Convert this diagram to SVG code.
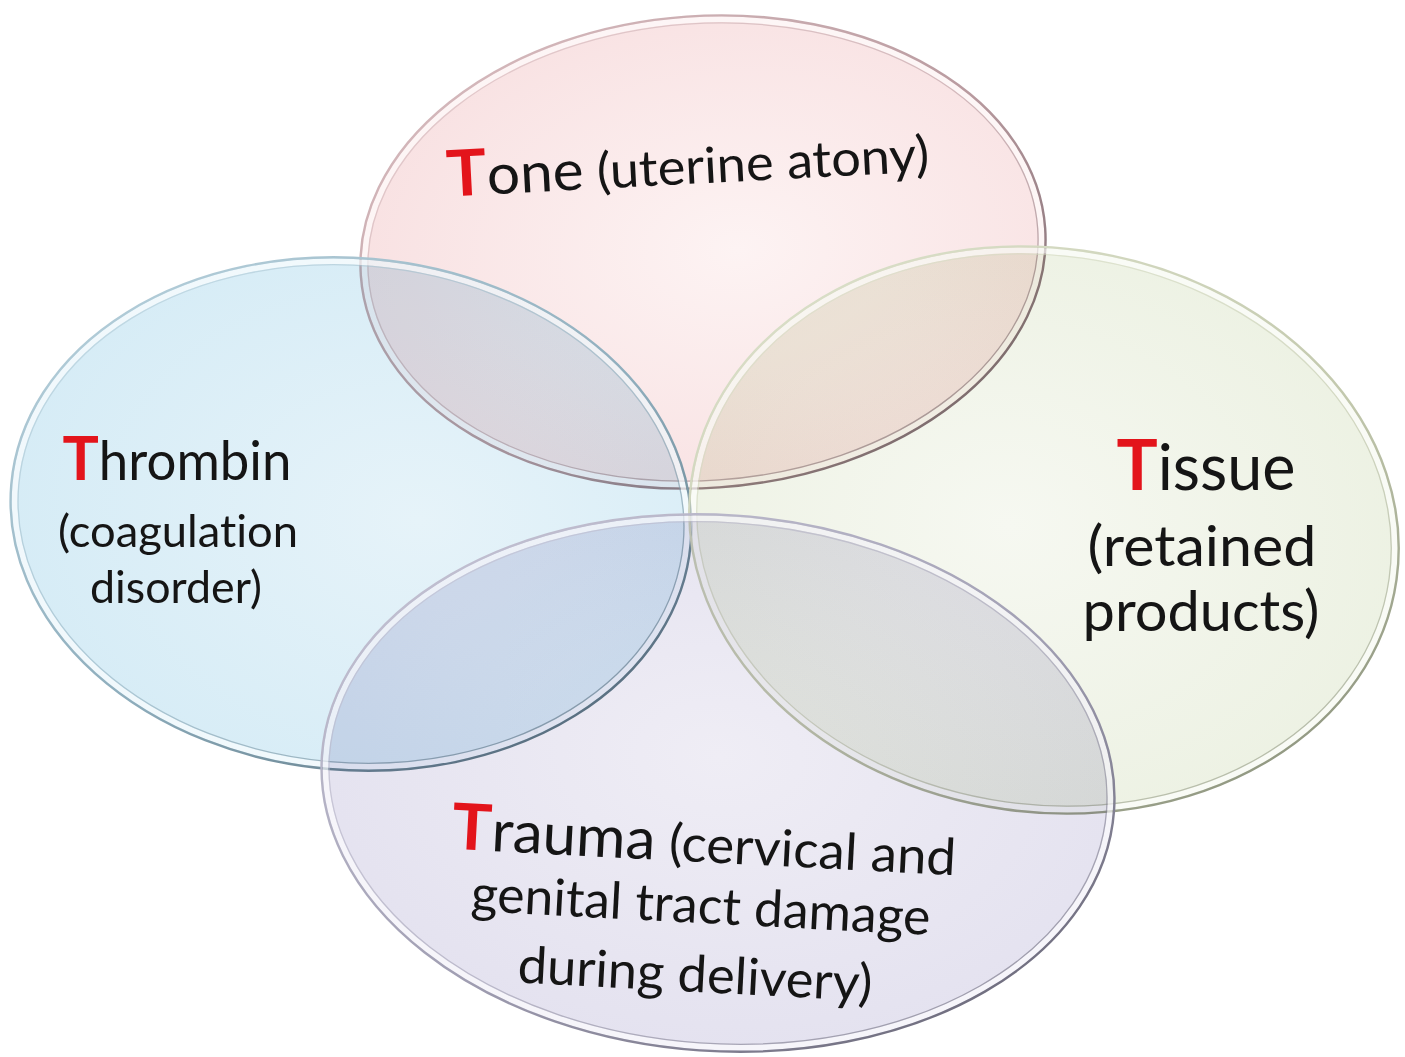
<svg xmlns="http://www.w3.org/2000/svg" width="1405" height="1057" viewBox="0 0 1405 1057">
<style>
.fill{mix-blend-mode:multiply}
.band{fill:none;stroke:#ffffff;stroke-opacity:0.65;stroke-width:5.5}
.edge{fill:none;stroke-width:2.4}
.inner{fill:none;stroke-width:1.3;stroke-opacity:0.6}
.lbl{font-family:Lato,"Liberation Sans",sans-serif;fill:#151515;font-variant-ligatures:none}
.red{fill:#e3141b;font-weight:700}
</style>
<defs>
<radialGradient id="gTone" cx="0.55" cy="0.5" r="0.6"><stop offset="0" stop-color="#fdf3f3"/><stop offset="1" stop-color="#f8e0e1"/></radialGradient>
<radialGradient id="gThr" cx="0.6" cy="0.5" r="0.6"><stop offset="0" stop-color="#e6f3f9"/><stop offset="1" stop-color="#d6ecf6"/></radialGradient>
<radialGradient id="gTis" cx="0.45" cy="0.5" r="0.6"><stop offset="0" stop-color="#f6f8f1"/><stop offset="1" stop-color="#ecf1e2"/></radialGradient>
<radialGradient id="gTra" cx="0.5" cy="0.45" r="0.6"><stop offset="0" stop-color="#efedf5"/><stop offset="1" stop-color="#e3e1ef"/></radialGradient>
<linearGradient id="sTone" x1="0" y1="0" x2="1" y2="1"><stop offset="0" stop-color="#dcc0c3"/><stop offset="0.55" stop-color="#b99ba0"/><stop offset="1" stop-color="#6d5e65"/></linearGradient>
<linearGradient id="sThr" x1="0" y1="0" x2="1" y2="1"><stop offset="0" stop-color="#bcd5e0"/><stop offset="0.55" stop-color="#8eadbc"/><stop offset="1" stop-color="#4d6470"/></linearGradient>
<linearGradient id="sTis" x1="0" y1="0" x2="1" y2="1"><stop offset="0" stop-color="#e0e5cf"/><stop offset="0.55" stop-color="#c2c8ad"/><stop offset="1" stop-color="#7d8470"/></linearGradient>
<linearGradient id="sTra" x1="0" y1="0" x2="1" y2="1"><stop offset="0" stop-color="#cbc9da"/><stop offset="0.55" stop-color="#a09eb2"/><stop offset="1" stop-color="#5c5a6a"/></linearGradient>
</defs>
<rect width="1405" height="1057" fill="#ffffff"/>

<g id="tone" transform="rotate(-4 703 252)">
<ellipse class="fill" cx="703" cy="252" rx="343" ry="236" fill="url(#gTone)"/>
<ellipse class="band" cx="703" cy="252" rx="339" ry="232"/>
<ellipse class="edge" cx="703" cy="252" rx="343" ry="236" stroke="url(#sTone)"/>
<ellipse class="inner" cx="703" cy="252" rx="335.5" ry="228.5" stroke="url(#sTone)"/>
</g>

<g id="thrombin" transform="rotate(5 351 514)">
<ellipse class="fill" cx="351" cy="514" rx="341" ry="256" fill="url(#gThr)"/>
<ellipse class="band" cx="351" cy="514" rx="337" ry="252"/>
<ellipse class="edge" cx="351" cy="514" rx="341" ry="256" stroke="url(#sThr)"/>
<ellipse class="inner" cx="351" cy="514" rx="333.5" ry="248.5" stroke="url(#sThr)"/>
</g>

<g id="tissue" transform="rotate(8 1044 530)">
<ellipse class="fill" cx="1044" cy="530" rx="356" ry="282" fill="url(#gTis)"/>
<ellipse class="band" cx="1044" cy="530" rx="352" ry="278"/>
<ellipse class="edge" cx="1044" cy="530" rx="356" ry="282" stroke="url(#sTis)"/>
<ellipse class="inner" cx="1044" cy="530" rx="348.5" ry="274.5" stroke="url(#sTis)"/>
</g>

<g id="trauma" transform="rotate(4 718 783)">
<ellipse class="fill" cx="718" cy="783" rx="397" ry="268" fill="url(#gTra)"/>
<ellipse class="band" cx="718" cy="783" rx="393" ry="264"/>
<ellipse class="edge" cx="718" cy="783" rx="397" ry="268" stroke="url(#sTra)"/>
<ellipse class="inner" cx="718" cy="783" rx="389.5" ry="260.5" stroke="url(#sTra)"/>
</g>

<g id="labels">
<text class="lbl" x="688" y="184" text-anchor="middle" transform="rotate(-3 688 170)" textLength="483" lengthAdjust="spacingAndGlyphs"><tspan class="red" font-size="64">T</tspan><tspan font-size="56">one</tspan><tspan font-size="50"> (uterine atony)</tspan></text>

<text class="lbl" x="177" y="480" text-anchor="middle" textLength="229" lengthAdjust="spacingAndGlyphs"><tspan class="red" font-size="62">T</tspan><tspan font-size="54">hrombin</tspan></text>
<text class="lbl" x="178" y="547" text-anchor="middle" font-size="45" textLength="240" lengthAdjust="spacingAndGlyphs">(coagulation</text>
<text class="lbl" x="176" y="603" text-anchor="middle" font-size="45" textLength="172" lengthAdjust="spacingAndGlyphs">disorder)</text>

<text class="lbl" x="1206" y="490" text-anchor="middle" textLength="179" lengthAdjust="spacingAndGlyphs"><tspan class="red" font-size="70">T</tspan><tspan font-size="64">issue</tspan></text>
<text class="lbl" x="1202" y="566" text-anchor="middle" font-size="56" textLength="229" lengthAdjust="spacingAndGlyphs">(retained</text>
<text class="lbl" x="1201" y="631" text-anchor="middle" font-size="56" textLength="237" lengthAdjust="spacingAndGlyphs">products)</text>

<g transform="rotate(3 700 920)">
<text class="lbl" x="700" y="862" text-anchor="middle" textLength="505" lengthAdjust="spacingAndGlyphs"><tspan class="red" font-size="64">T</tspan><tspan font-size="58">rauma</tspan><tspan font-size="51"> (cervical and</tspan></text>
<text class="lbl" x="700" y="923" text-anchor="middle" font-size="51" textLength="460" lengthAdjust="spacingAndGlyphs">genital tract damage</text>
<text class="lbl" x="698" y="992" text-anchor="middle" font-size="51" textLength="355" lengthAdjust="spacingAndGlyphs">during delivery)</text>
</g>
</g>
</svg>
